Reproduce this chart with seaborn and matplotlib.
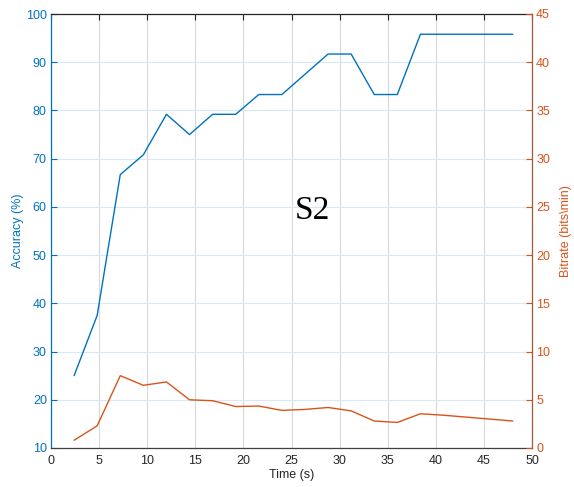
import matplotlib
matplotlib.use("Agg")
import matplotlib.pyplot as plt
import seaborn as sns
import pandas as pd

# Data
time_s = [2.4, 4.8, 7.2, 9.6, 12.0, 14.4, 16.8, 19.2, 21.6, 24.0, 26.4, 28.8,
          31.2, 33.6, 36.0, 38.4, 40.8, 43.2, 45.6, 48.0]
accuracy = [25.0, 37.5, 66.7, 70.8, 79.2, 75.0, 79.2, 79.2, 83.3, 83.3, 87.5, 91.7,
            91.7, 83.3, 83.3, 95.8, 95.8, 95.8, 95.8, 95.8]
bitrate = [0.8, 2.3, 7.5, 6.5, 6.85, 5.0, 4.9, 4.3, 4.35, 3.9, 4.0, 4.2,
           3.85, 2.8, 2.65, 3.55, 3.4, 3.2, 3.0, 2.8]

x_ticks = list(range(0, 51, 5))
acc_ticks = list(range(10, 101, 10))
bit_ticks = list(range(0, 46, 5))

df = pd.DataFrame({"time": time_s, "accuracy": accuracy, "bitrate": bitrate})

sns.set_theme(style="white")
plt.rcParams["font.family"] = ["Liberation Sans", "DejaVu Sans"]

BLUE = "#0072BD"
ORANGE = "#D95319"
SPINE_R = "#A0583A"
DARK = "#262626"

fig = plt.figure(figsize=(5.74, 4.87), dpi=100)
ax = fig.add_axes([51 / 574, 39 / 487, 481 / 574, 434 / 487])
ax2 = ax.twinx()

sns.lineplot(data=df, x="time", y="accuracy", ax=ax, color=BLUE, linewidth=1.0)
sns.lineplot(data=df, x="time", y="bitrate", ax=ax2, color=ORANGE, linewidth=1.0)

ax.set_xlim(0, 50)
ax.set_ylim(10, 100)
ax2.set_ylim(0, 45)
ax.set_xticks(x_ticks)
ax.set_yticks(acc_ticks)
ax2.set_yticks(bit_ticks)

# Grid: vertical in gray, horizontal tinted by the left axis colour
ax.grid(True, axis="x", color="#d5d8dc", linewidth=0.8)
ax.grid(True, axis="y", color="#d9e8f5", linewidth=0.8)
ax.set_axisbelow(True)

ax.set_xlabel("Time (s)", fontsize=9, color=DARK, labelpad=1.5)
ax.set_ylabel("Accuracy (%)", fontsize=9, color=BLUE, labelpad=1)
ax2.set_ylabel("Bitrate (bits\\min)", fontsize=9, color=ORANGE, labelpad=7)

ax.tick_params(axis="x", direction="in", length=4, width=0.8, colors=DARK,
               labelsize=9, top=True, pad=5)
ax.tick_params(axis="y", direction="in", length=4, width=0.8, colors=BLUE,
               labelsize=9, pad=3)
ax2.tick_params(axis="y", direction="in", length=4, width=0.8, colors=ORANGE,
                labelsize=9, pad=3)

for a in (ax, ax2):
    for s in a.spines.values():
        s.set_linewidth(0.9)
ax.spines["left"].set_color(BLUE)
ax.spines["bottom"].set_color("#404040")
ax.spines["top"].set_color("#262626")
ax.spines["right"].set_visible(False)
ax2.spines["right"].set_color(SPINE_R)
ax2.spines["left"].set_visible(False)
ax2.spines["top"].set_visible(False)
ax2.spines["bottom"].set_visible(False)

ax.text(27.2, 59.3, "S2", fontsize=24, color="black",
        family=["Liberation Serif", "DejaVu Serif"], ha="center", va="center")

fig.savefig("out.png", dpi=100)
